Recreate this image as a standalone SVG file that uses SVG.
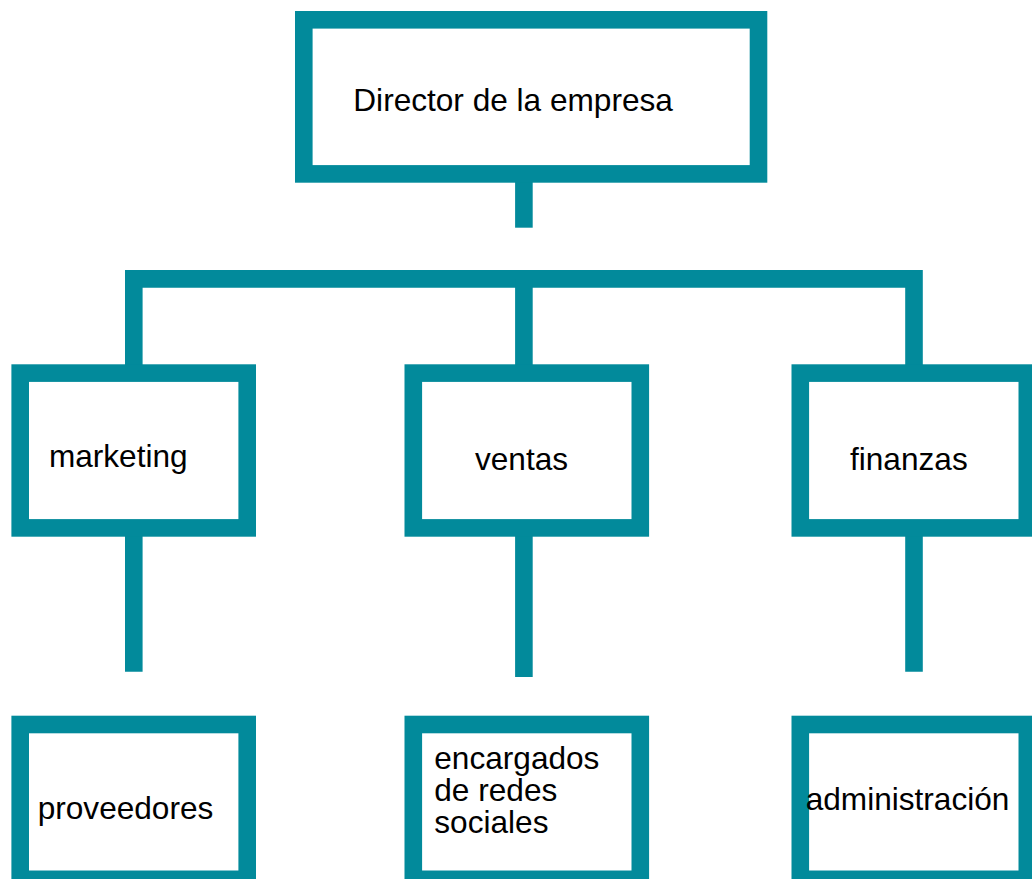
<svg xmlns="http://www.w3.org/2000/svg" width="1032" height="879" viewBox="0 0 1032 879">
<style>
.box{fill:#ffffff;stroke:#028A9B;stroke-width:17.6}
.con{fill:none;stroke:#028A9B;stroke-width:17.6;stroke-linejoin:miter;stroke-linecap:butt}
text{font-family:"Liberation Sans",Arial,sans-serif;font-size:31.6px;fill:#000000}
</style>
<rect width="1032" height="879" fill="#ffffff"/>
<g id="connectors">
<line class="con" x1="523.9" y1="182" x2="523.9" y2="227.7"/>
<polyline class="con" points="133.8,365 133.8,278.9 914,278.9 914,365"/>
<line class="con" x1="523.9" y1="278.9" x2="523.9" y2="365"/>
<line class="con" x1="133.8" y1="536" x2="133.8" y2="671.7"/>
<line class="con" x1="523.9" y1="536" x2="523.9" y2="677"/>
<line class="con" x1="914" y1="536" x2="914" y2="671.7"/>
</g>
<g id="director">
<rect class="box" x="303.8" y="19.8" width="454.7" height="154.1"/>
<text x="353.3" y="110.5">Director de la empresa</text>
</g>
<g id="marketing">
<rect class="box" x="20.2" y="373.1" width="227" height="154.8"/>
<text x="48.9" y="466.5">marketing</text>
</g>
<g id="ventas">
<rect class="box" x="413.3" y="373.1" width="227" height="154.8"/>
<text x="475" y="469.5">ventas</text>
</g>
<g id="finanzas">
<rect class="box" x="800.3" y="373.1" width="227" height="154.8"/>
<text x="850" y="469.5">finanzas</text>
</g>
<g id="proveedores">
<rect class="box" x="20.2" y="724.5" width="227" height="154.8"/>
<text x="37.7" y="818.5">proveedores</text>
</g>
<g id="encargados">
<rect class="box" x="413.3" y="724.5" width="227" height="154.8"/>
<text x="434.3" y="768.5">encargados</text>
<text x="434.3" y="800.7">de redes</text>
<text x="434.3" y="832.5">sociales</text>
</g>
<g id="administracion">
<rect class="box" x="800.3" y="724.5" width="227" height="154.8"/>
<text x="805.7" y="810">administración</text>
</g>
</svg>
